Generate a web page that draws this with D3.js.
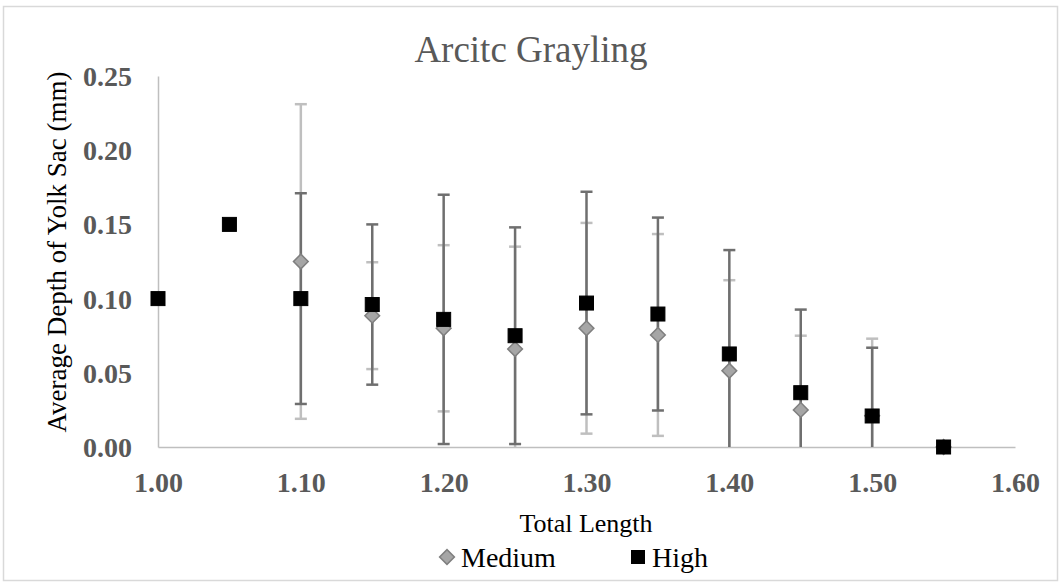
<!DOCTYPE html>
<html>
<head>
<meta charset="utf-8">
<script src="https://cdn.jsdelivr.net/npm/d3@7"></script>
<style>
  body { margin: 0; background: #fff; }
  svg { display: block; font-family: "Liberation Serif", "Times New Roman", serif; }
</style>
</head>
<body>
<div></div>
<script>
// values
var lengths = [1.00, 1.05, 1.10, 1.15, 1.20, 1.25, 1.30, 1.35, 1.40, 1.45, 1.50, 1.55];
var medium = [null, null, 0.125, 0.0885, 0.080, 0.066, 0.080, 0.0755, 0.0514, 0.025, 0.021, 0];
var mediumErr = [null, null, 0.106, 0.036, 0.056, 0.069, 0.071, 0.068, 0.061, 0.050, 0.052, null];
var high = [0.10, 0.15, 0.10, 0.096, 0.086, 0.075, 0.097, 0.0896, 0.0627, 0.0366, 0.0209, 0];
var highErr = [null, null, 0.071, 0.054, 0.084, 0.073, 0.075, 0.065, 0.070, 0.056, 0.046, null];
var xTicks = [1.00, 1.10, 1.20, 1.30, 1.40, 1.50, 1.60];
var yTicks = [0, 0.05, 0.10, 0.15, 0.20, 0.25];

var width = 1062,
    height = 582;

var x = d3.scaleLinear().domain([1.0, 1.6]).range([158, 1015]);
var y = d3.scaleLinear().domain([0, 0.25]).range([447, 76]);

var svg = d3.select("div").append("svg")
    .attr("width", width)
    .attr("height", height);

// chart border
svg.append("rect")
    .attr("x", 3.5)
    .attr("y", 6.5)
    .attr("width", 1054)
    .attr("height", 574)
    .attr("fill", "#fff")
    .attr("stroke", "#d9d9d9")
    .attr("stroke-width", 1.5);

svg.append("text")
    .attr("x", 531)
    .attr("y", 62)
    .attr("text-anchor", "middle")
    .attr("fill", "#595959")
    .style("font-size", "37px")
    .text("Arcitc Grayling");

// axes
var xAxis = svg.append("g")
    .attr("transform", "translate(0," + y(0) + ")")
    .call(d3.axisBottom(x).tickValues(xTicks).tickSize(0).tickPadding(25).tickFormat(d3.format(".2f")));

var yAxis = svg.append("g")
    .attr("transform", "translate(" + x(1.0) + ",0)")
    .call(d3.axisLeft(y).tickValues(yTicks).tickSize(0).tickPadding(26).tickFormat(d3.format(".2f")));

[xAxis, yAxis].forEach(function (g) {
    g.select(".domain").attr("stroke", "#bfbfbf").attr("stroke-width", 1.5);
    g.selectAll("text")
        .attr("fill", "#595959")
        .style("font-family", "Liberation Serif, serif")
        .style("font-size", "28px")
        .style("font-weight", "bold");
});
yAxis.selectAll("text").attr("dy", "0.34em");

svg.append("text")
    .attr("x", 586)
    .attr("y", 532)
    .attr("text-anchor", "middle")
    .style("font-size", "26px")
    .text("Total Length");

svg.append("text")
    .attr("transform", "translate(66,252) rotate(-90)")
    .attr("text-anchor", "middle")
    .style("font-size", "27px")
    .text("Average Depth of Yolk Sac (mm)");

// error bars
function errorBars(vals, errs, color) {
    var rows = lengths.map(function (l, i) {
        return { x: l, v: vals[i], e: errs[i] };
    }).filter(function (d) { return d.v != null && d.e != null; });

    var g = svg.append("g")
        .attr("stroke", color)
        .attr("stroke-width", 2.5);

    rows.forEach(function (d) {
        var top = d.v + d.e,
            bot = Math.max(0, d.v - d.e);
        g.append("line")
            .attr("x1", x(d.x)).attr("x2", x(d.x))
            .attr("y1", y(top)).attr("y2", y(bot));
        g.append("line")
            .attr("x1", x(d.x) - 6).attr("x2", x(d.x) + 6)
            .attr("y1", y(top)).attr("y2", y(top));
        if (d.v - d.e > 0) {
            g.append("line")
                .attr("x1", x(d.x) - 6).attr("x2", x(d.x) + 6)
                .attr("y1", y(bot)).attr("y2", y(bot));
        }
    });
}

errorBars(medium, mediumErr, "#bfbfbf");
errorBars(high, highErr, "#6f6f6f");

var diamond = d3.symbol().type(d3.symbolSquare).size(108);

svg.append("g")
    .selectAll("path")
    .data(lengths.map(function (l, i) { return { x: l, v: medium[i] }; })
        .filter(function (d) { return d.v != null; }))
    .enter().append("path")
    .attr("d", diamond)
    .attr("transform", function (d) { return "translate(" + x(d.x) + "," + y(d.v) + ") rotate(45)"; })
    .attr("fill", "#a6a6a6")
    .attr("stroke", "#7f7f7f")
    .attr("stroke-width", 1.5);

svg.append("g")
    .selectAll("rect")
    .data(lengths.map(function (l, i) { return { x: l, v: high[i] }; }))
    .enter().append("rect")
    .attr("x", function (d) { return x(d.x) - 7; })
    .attr("y", function (d) { return y(d.v) - 7; })
    .attr("width", 14)
    .attr("height", 14)
    .attr("fill", "#000")
    .attr("stroke", "#000")
    .attr("stroke-width", 1);

// legend
function legend(lx, ly, text, kind) {
    if (kind == "diamond") {
        svg.append("path")
            .attr("d", d3.symbol().type(d3.symbolSquare).size(110))
            .attr("transform", "translate(" + lx + "," + ly + ") rotate(45)")
            .attr("fill", "#a6a6a6")
            .attr("stroke", "#7f7f7f")
            .attr("stroke-width", 1.5);
    } else {
        svg.append("rect")
            .attr("x", lx - 7)
            .attr("y", ly - 7)
            .attr("width", 14)
            .attr("height", 14)
            .attr("fill", "#000");
    }
    svg.append("text")
        .attr("x", lx + 14)
        .attr("y", ly + 10)
        .style("font-size", "28px")
        .text(text);
}

legend(447, 557, "Medium", "diamond");
legend(638, 557, "High", "square");
</script>
</body>
</html>
